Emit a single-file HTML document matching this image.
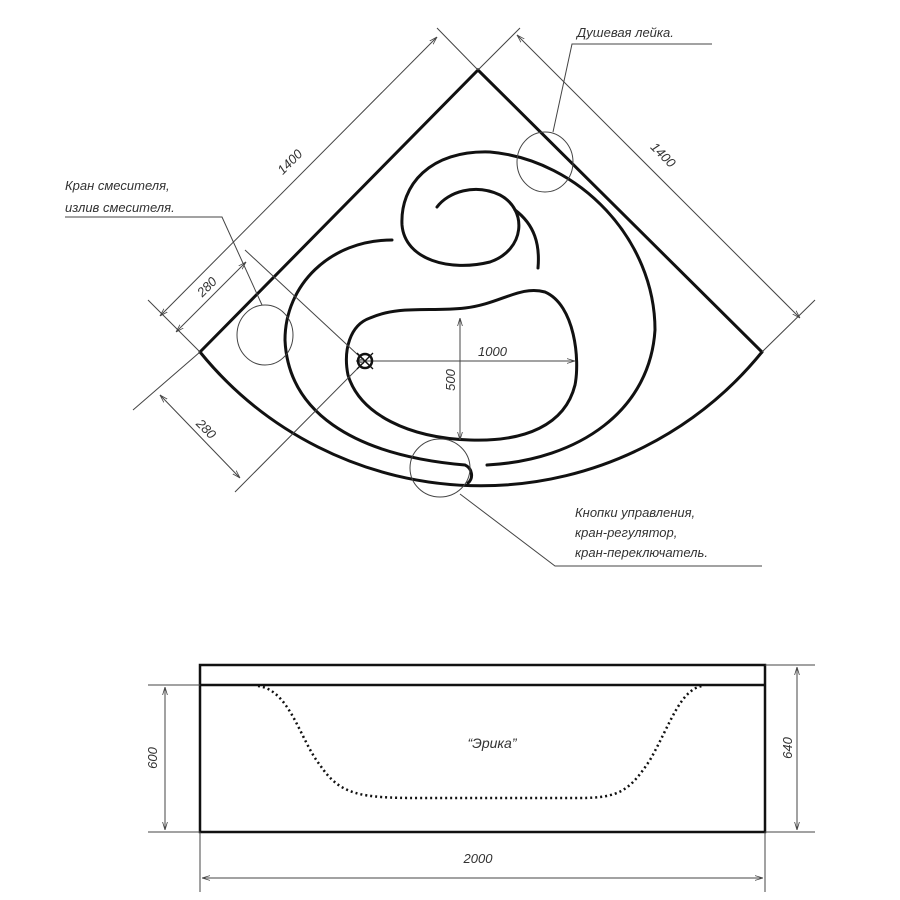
<!DOCTYPE html>
<html><head><meta charset="utf-8"><style>
html,body{margin:0;padding:0;background:#fff;}
svg{display:block}
text{font-family:"Liberation Sans",sans-serif;font-style:italic;fill:#333;font-size:13px}
</style></head><body>
<svg width="900" height="900" viewBox="0 0 900 900" xmlns="http://www.w3.org/2000/svg">
<defs>
<marker id="a" viewBox="0 0 10 10" refX="10" refY="5" markerWidth="8" markerHeight="8" orient="auto-start-reverse"><path d="M0,2 L10,5 L0,8" fill="none" stroke="#444" stroke-width="1"/></marker>
</defs>
<g fill="none" stroke="#111" stroke-width="3" stroke-linecap="round">
<path d="M200,352 L478,70 L762,352"/>
<path d="M200,352 A362,362 0 0 0 762,352"/>
<path d="M392,240 C330,240 285,285 285,340 C288,410 350,455 465,465 C472,468 474,478 468,483"/>
<path d="M487,465 C580,460 650,410 655,330 C655,240 580,160 490,152 C430,150 400,185 402,225 C405,260 450,272 490,262 C525,250 528,210 500,195 C475,183 448,192 437,207"/>
<path d="M515,210 C535,225 540,245 538,268"/>
<path d="M370,318 C400,305 430,312 465,308 C500,304 520,285 545,292 C575,305 580,360 575,385 C565,425 525,442 470,440 C410,438 360,415 348,375 C343,350 350,325 370,318 Z"/>
</g>
<g fill="none" stroke="#444" stroke-width="1">
<path d="M478,70 L437,28 M478,70 L520,28 M200,352 L148,300 M762,352 L815,300"/>
<path d="M160,316 L437,37" marker-start="url(#a)" marker-end="url(#a)"/>
<path d="M517,35 L800,318" marker-start="url(#a)" marker-end="url(#a)"/>
<path d="M245,250 L372,368"/>
<path d="M176,332 L246,262" marker-start="url(#a)" marker-end="url(#a)"/>
<path d="M200,352 L133,410 M365,361 L235,492"/>
<path d="M160,395 L240,478" marker-start="url(#a)" marker-end="url(#a)"/>
<path d="M356,361 L575,361" marker-start="url(#a)" marker-end="url(#a)"/>
<path d="M460,318 L460,440" marker-start="url(#a)" marker-end="url(#a)"/>
<ellipse cx="545" cy="162" rx="28" ry="30"/>
<ellipse cx="265" cy="335" rx="28" ry="30"/>
<ellipse cx="440" cy="468" rx="30" ry="29"/>
<path d="M553,132 L572,44 L712,44"/>
<path d="M262,305 L222,217 L65,217"/>
<path d="M460,494 L555,566 L762,566"/>
</g>
<circle cx="365" cy="361" r="7" fill="none" stroke="#111" stroke-width="2.5"/>
<path d="M357,353 L373,369 M373,353 L357,369" stroke="#111" stroke-width="1.3"/>
<text x="577" y="37">Душевая лейка.</text>
<text x="65" y="190">Кран смесителя,</text>
<text x="65" y="212">излив смесителя.</text>
<text x="575" y="517">Кнопки управления,</text>
<text x="575" y="537">кран-регулятор,</text>
<text x="575" y="557">кран-переключатель.</text>
<text transform="translate(293,165) rotate(-45)" text-anchor="middle">1400</text>
<text transform="translate(660,158) rotate(45)" text-anchor="middle">1400</text>
<text transform="translate(210,290) rotate(-45)" text-anchor="middle">280</text>
<text transform="translate(203,432) rotate(45)" text-anchor="middle">280</text>
<text x="478" y="356">1000</text>
<text transform="translate(455,380) rotate(-90)" text-anchor="middle">500</text>
<!-- front view -->
<rect x="200" y="665" width="565" height="167" fill="none" stroke="#111" stroke-width="2.5"/>
<line x1="200" y1="685" x2="765" y2="685" stroke="#111" stroke-width="2.5"/>
<path d="M258,686 C290,690 300,740 320,765 C340,795 360,798 420,798 L580,798 C620,798 630,790 650,760 C670,725 680,690 702,686" fill="none" stroke="#111" stroke-width="2.5" stroke-dasharray="2,3"/>
<g fill="none" stroke="#444" stroke-width="1">
<path d="M148,685 L200,685 M148,832 L200,832 M765,665 L815,665 M765,832 L815,832 M200,832 L200,892 M765,832 L765,892"/>
<path d="M165,687 L165,830" marker-start="url(#a)" marker-end="url(#a)"/>
<path d="M797,667 L797,830" marker-start="url(#a)" marker-end="url(#a)"/>
<path d="M202,878 L763,878" marker-start="url(#a)" marker-end="url(#a)"/>
</g>
<text transform="translate(157,758) rotate(-90)" text-anchor="middle">600</text>
<text transform="translate(792,748) rotate(-90)" text-anchor="middle">640</text>
<text x="478" y="863" text-anchor="middle">2000</text>
<text x="492" y="748" text-anchor="middle" style="font-size:14px">“Эрика”</text>
</svg>
</body></html>
